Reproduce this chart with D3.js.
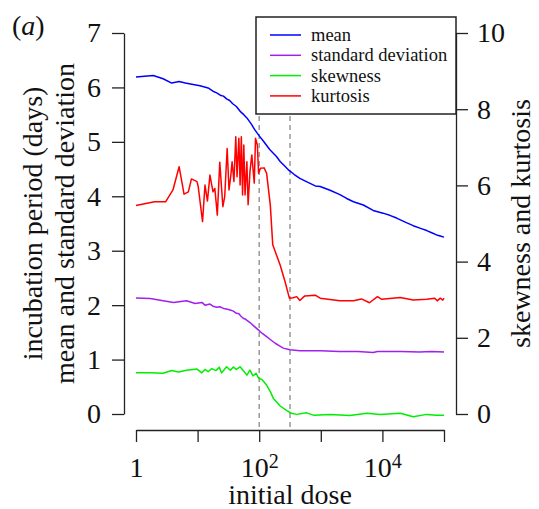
<!DOCTYPE html>
<html>
<head>
<meta charset="utf-8">
<script src="https://cdn.jsdelivr.net/npm/d3@7"></script>
<style>
   body { margin: 0; background: #fff; }
   svg text { font-family: "Liberation Serif", "Times New Roman", serif; fill: #111; }
   .axis path, .axis line { stroke: #222; stroke-width: 1.3; }
   .axis text { font-size: 28px; }
   .series { fill: none; stroke-width: 1.5; stroke-linejoin: round; }
</style>
</head>
<body>
<div id="chartContainer"></div>
<script>
// log10 of initial dose, and series values
var meanLogDose = [0, 0.28, 0.44, 0.58, 0.70, 0.80, 0.95, 1.04, 1.17, 1.25, 1.31, 1.38, 1.42, 1.47, 1.52, 1.57, 1.63, 1.70, 1.75, 1.80, 1.87, 1.93, 2.00, 2.07, 2.17, 2.28, 2.34, 2.41, 2.48, 2.57, 2.66, 2.80, 2.91, 2.99, 3.15, 3.31, 3.42, 3.53, 3.69, 3.85, 4.01, 4.12, 4.23, 4.38, 4.50, 4.62, 4.72, 4.80, 4.88, 4.94, 5.0];
var meanVal = [6.19, 6.22, 6.16, 6.08, 6.11, 6.08, 6.05, 6.03, 5.99, 5.93, 5.90, 5.85, 5.84, 5.79, 5.76, 5.70, 5.65, 5.55, 5.50, 5.44, 5.33, 5.22, 5.11, 5.01, 4.86, 4.73, 4.64, 4.56, 4.48, 4.40, 4.33, 4.25, 4.19, 4.18, 4.11, 4.03, 3.96, 3.90, 3.84, 3.74, 3.69, 3.65, 3.60, 3.52, 3.46, 3.41, 3.37, 3.33, 3.29, 3.27, 3.25];

var sdLogDose = [0, 0.23, 0.44, 0.61, 0.82, 0.96, 1.07, 1.12, 1.20, 1.25, 1.31, 1.36, 1.42, 1.47, 1.53, 1.58, 1.63, 1.67, 1.70, 1.74, 1.78, 1.85, 1.92, 1.99, 2.05, 2.12, 2.19, 2.26, 2.33, 2.39, 2.50, 2.66, 3.0, 3.3, 3.6, 3.85, 3.92, 4.3, 4.6, 4.8, 5.0];
var sdVal = [2.13, 2.12, 2.08, 2.05, 2.08, 2.03, 2.05, 2.00, 2.02, 1.98, 1.96, 1.97, 1.94, 1.93, 1.91, 1.89, 1.85, 1.84, 1.80, 1.76, 1.74, 1.68, 1.61, 1.54, 1.48, 1.42, 1.36, 1.30, 1.25, 1.21, 1.18, 1.16, 1.16, 1.15, 1.15, 1.13, 1.15, 1.15, 1.14, 1.15, 1.14];

var skewLogDose = [0, 0.23, 0.44, 0.58, 0.69, 0.82, 0.99, 1.07, 1.12, 1.17, 1.23, 1.30, 1.35, 1.39, 1.47, 1.53, 1.58, 1.63, 1.69, 1.74, 1.80, 1.85, 1.90, 1.95, 1.99, 2.04, 2.12, 2.18, 2.23, 2.28, 2.34, 2.45, 2.52, 2.61, 2.77, 2.88, 3.15, 3.47, 3.75, 3.96, 4.29, 4.50, 4.72, 4.88, 5.0];
var skewVal = [1.08, 1.08, 1.07, 1.14, 1.10, 1.15, 1.18, 1.08, 1.17, 1.11, 1.19, 1.14, 1.23, 1.08, 1.24, 1.15, 1.23, 1.17, 1.24, 1.14, 1.02, 1.15, 1.00, 1.07, 0.94, 0.91, 0.76, 0.59, 0.41, 0.32, 0.21, 0.09, 0.02, -0.01, 0.03, -0.03, -0.01, -0.04, 0.02, -0.01, 0.02, -0.07, -0.01, -0.03, -0.03];

var kurtLogDose = [0, 0.30, 0.48, 0.60, 0.70, 0.78, 0.85, 0.90, 0.99, 1.01, 1.08, 1.12, 1.16, 1.20, 1.25, 1.28, 1.32, 1.36, 1.41, 1.44, 1.48, 1.51, 1.54, 1.56, 1.59, 1.62, 1.64, 1.67, 1.69, 1.71, 1.73, 1.75, 1.77, 1.80, 1.82, 1.85, 1.88, 1.92, 1.94, 1.97, 1.99, 2.02, 2.08, 2.12, 2.18, 2.22, 2.27, 2.34, 2.42, 2.49, 2.55, 2.61, 2.66, 2.74, 2.91, 2.99, 3.31, 3.53, 3.66, 3.79, 3.92, 3.99, 4.29, 4.50, 4.72, 4.85, 4.89, 4.94, 4.98, 5.0];
var kurtVal = [5.47, 5.57, 5.57, 5.88, 6.49, 5.77, 5.83, 6.17, 6.10, 5.97, 5.05, 6.01, 5.59, 6.27, 5.83, 5.92, 5.22, 6.61, 5.44, 5.70, 6.97, 5.88, 6.27, 6.62, 6.10, 7.28, 6.23, 7.24, 6.01, 7.28, 5.75, 7.06, 5.75, 6.62, 5.49, 6.36, 6.80, 6.06, 7.24, 7.06, 6.32, 6.45, 6.46, 6.32, 5.49, 4.44, 4.22, 3.91, 3.47, 3.04, 3.05, 3.08, 2.98, 3.10, 3.12, 3.04, 2.97, 2.97, 3.02, 2.92, 3.08, 3.01, 3.06, 2.99, 3.01, 3.04, 2.97, 3.04, 2.99, 3.04];

var xTicks = [1, 10, 100, 1000, 10000, 100000];
var leftTicks = [0, 1, 2, 3, 4, 5, 6, 7];
var rightTicks = [0, 2, 4, 6, 8, 10];
var markerLogDose = [2, 2.5];

var legendNames = ["mean", "standard deviation", "skewness", "kurtosis"];
var legendColors = ["#0000ff", "#a020f0", "#00ee00", "#ff0000"];

var width = 539, height = 509;
var plot = { left: 124, right: 456, top: 17, bottom: 430 };

var xScale = d3.scaleLog().domain([1, 1e5]).range([136, 444]);
var yLeft = d3.scaleLinear().domain([0, 7]).range([414, 33]);
var yRight = d3.scaleLinear().domain([0, 10]).range([414, 33]);

var svg = d3.select("#chartContainer")
   .append("svg")
   .attr("width", width)
   .attr("height", height);

function pairs(logDose, vals) {
   return logDose.map(function (l, i) { return { x: Math.pow(10, l), y: vals[i] }; });
}

// dashed markers
svg.append("g")
   .selectAll("line")
   .data(markerLogDose)
   .enter()
   .append("line")
   .attr("x1", function (d) { return xScale(Math.pow(10, d)); })
   .attr("x2", function (d) { return xScale(Math.pow(10, d)); })
   .attr("y1", plot.top)
   .attr("y2", plot.bottom)
   .style("stroke", "#999")
   .style("stroke-width", 1.5)
   .style("stroke-dasharray", "5,4");

var lineLeft = d3.line()
   .x(function (d) { return xScale(d.x); })
   .y(function (d) { return yLeft(d.y); });
var lineRight = d3.line()
   .x(function (d) { return xScale(d.x); })
   .y(function (d) { return yRight(d.y); });

var series = [
   { data: pairs(meanLogDose, meanVal), line: lineLeft, color: legendColors[0] },
   { data: pairs(sdLogDose, sdVal), line: lineLeft, color: legendColors[1] },
   { data: pairs(skewLogDose, skewVal), line: lineRight, color: legendColors[2] },
   { data: pairs(kurtLogDose, kurtVal), line: lineRight, color: legendColors[3] }
];

series.forEach(function (s) {
   svg.append("path")
      .datum(s.data)
      .attr("class", "series")
      .attr("d", s.line)
      .style("stroke", s.color);
});

// axes
var gX = svg.append("g")
   .attr("class", "axis")
   .attr("transform", "translate(0," + plot.bottom + ")")
   .call(d3.axisBottom(xScale).tickValues(xTicks).tickSize(12).tickSizeOuter(0).tickPadding(15).tickFormat(function () { return ""; }));

gX.selectAll(".tick text").each(function (d) {
   var e = Math.round(Math.log10(d));
   var t = d3.select(this);
   if (e === 0) {
      t.text("1");
   } else if (e % 2 === 0) {
      t.append("tspan").text("10");
      t.append("tspan").attr("dy", "-0.42em").attr("font-size", "0.72em").text(e);
   }
});

svg.append("g")
   .attr("class", "axis")
   .attr("transform", "translate(" + plot.left + ",0)")
   .call(d3.axisLeft(yLeft).tickValues(leftTicks).tickSize(12).tickSizeOuter(0).tickPadding(11).tickFormat(d3.format("d")));

svg.append("g")
   .attr("class", "axis")
   .attr("transform", "translate(" + plot.right + ",0)")
   .call(d3.axisRight(yRight).tickValues(rightTicks).tickSize(12).tickSizeOuter(0).tickPadding(9).tickFormat(d3.format("d")));

// legend
var legend = svg.append("g");
legend.append("rect")
   .attr("x", 256)
   .attr("y", plot.top)
   .attr("width", plot.right - 256)
   .attr("height", 97)
   .style("fill", "#fff")
   .style("stroke", "#222")
   .style("stroke-width", 1.5);

var items = legend.selectAll(".item")
   .data(legendNames)
   .enter()
   .append("g")
   .attr("transform", function (d, i) { return "translate(0," + (35 + i * 20.3) + ")"; });
items.append("line")
   .attr("x1", 270)
   .attr("x2", 301)
   .style("stroke", function (d, i) { return legendColors[i]; })
   .style("stroke-width", 1.5);
items.append("text")
   .attr("x", 311)
   .attr("dy", "0.32em")
   .style("font-size", "18.5px")
   .text(function (d) { return d; });

// titles
svg.append("text")
   .attr("x", 290)
   .attr("y", 504)
   .attr("text-anchor", "middle")
   .style("font-size", "28px")
   .text("initial dose");

var midY = (plot.top + plot.bottom) / 2;
svg.append("text")
   .attr("transform", "translate(42," + midY + ") rotate(-90)")
   .attr("text-anchor", "middle")
   .style("font-size", "28px")
   .text("incubation period (days)");
svg.append("text")
   .attr("transform", "translate(74," + midY + ") rotate(-90)")
   .attr("text-anchor", "middle")
   .style("font-size", "28px")
   .text("mean and standard deviation");
svg.append("text")
   .attr("transform", "translate(530," + midY + ") rotate(-90)")
   .attr("text-anchor", "middle")
   .style("font-size", "28px")
   .text("skewness and kurtosis");

var tag = svg.append("text")
   .attr("x", 12)
   .attr("y", 35)
   .style("font-size", "28px");
tag.append("tspan").text("(");
tag.append("tspan").style("font-style", "italic").text("a");
tag.append("tspan").text(")");
</script>
</body>
</html>
